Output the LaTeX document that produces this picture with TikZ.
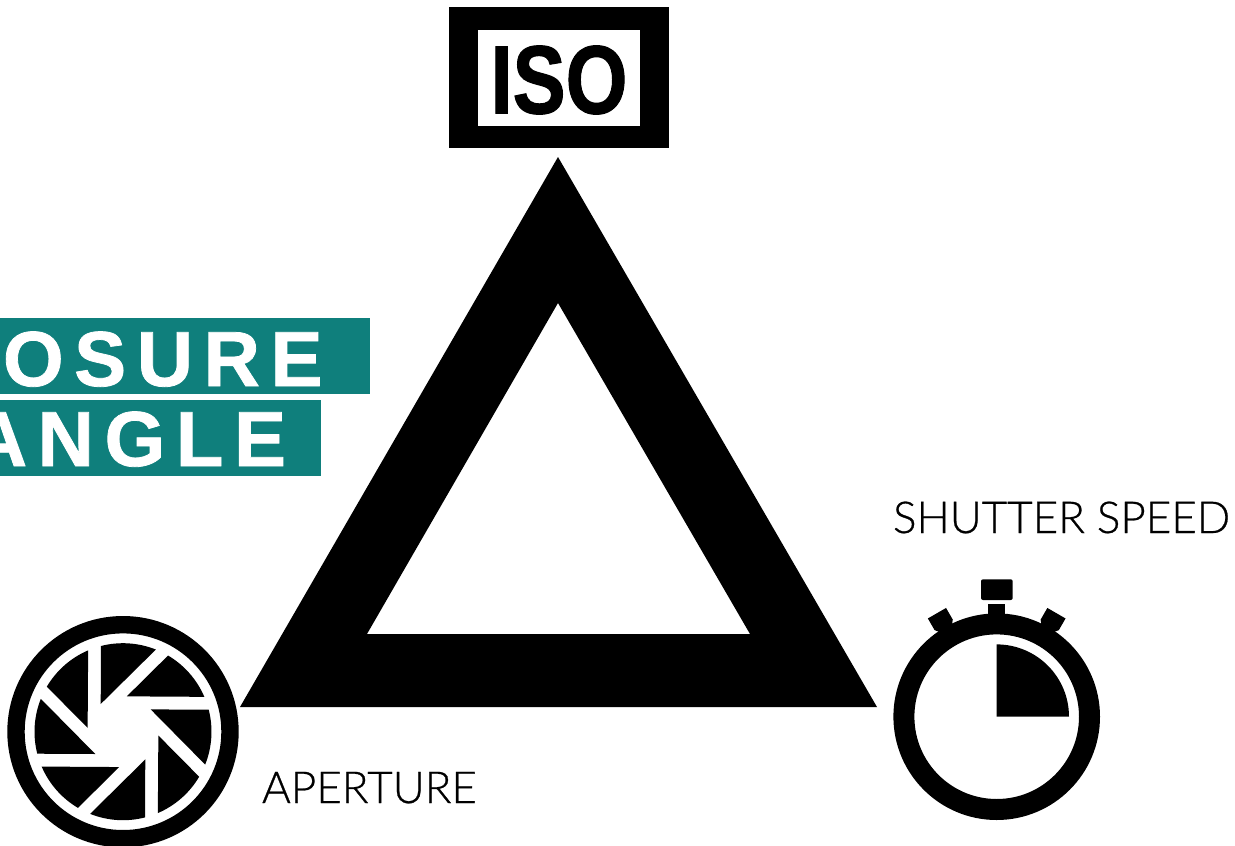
\documentclass[tikz,border=0pt]{standalone}
\usepackage{fontspec}
\setmainfont{Liberation Sans}
\newfontfamily\bannerfont[LetterSpace=13.5,FakeBold=1]{Liberation Sans Bold}
\newfontfamily\isofont[FakeBold=1.2]{Liberation Sans Bold}
\newfontfamily\thinfont[FakeBold=.6]{Lato Light}
\definecolor{cBan}{HTML}{0F7F7C}

\begin{document}
\begin{tikzpicture}[x=1pt, y=1pt,
    every node/.style={inner sep=0pt, outer sep=0pt},
    banner/.style ={fill=cBan, draw=none},
    bantxt/.style ={anchor=base east, text=white, font=\bannerfont\fontsize{78}{78}\selectfont},
    isotxt/.style ={anchor=center, xscale=.82, font=\isofont\fontsize{97}{97}\selectfont},
    lbl/.style    ={anchor=base west, font=\thinfont\fontsize{44}{44}\selectfont},
    ink/.style    ={fill=black, draw=none}]

\useasboundingbox (0,0) rectangle (1235,-846);
\clip (0,0) rectangle (1235,-846);

\def\AX{123}  \def\AY{-731.7}   % aperture centre
\def\SX{996.7} \def\SY{-716.7}  % stopwatch centre

% ── banner ──────────────────────────────────────────────────────────────
\fill[banner] (-1,-318) rectangle (370,-394);
\fill[banner] (-1,-400) rectangle (321,-476);
\node[bantxt] (expo) at (322.5,-386) {OSURE};
\node[bantxt] (tri)  at (286,-466) {ANGLE};

% ── triangle ────────────────────────────────────────────────────────────
\fill[ink, even odd rule] (558,-157) -- (877,-707) -- (240,-707) -- cycle
  (558,-303) -- (750,-634) -- (367,-634) -- cycle;

% ── iso ─────────────────────────────────────────────────────────────────
\fill[ink] (449,-7) rectangle (669,-148);
\fill[white] (478,-30) rectangle (640,-126);
\node[isotxt] (iso) at (559,-80) {ISO};

% ── aperture ────────────────────────────────────────────────────────────
\draw[line width=17.4pt] (\AX,\AY) circle[radius=107];
\foreach \ang in {0,45,...,315} {
  \begin{scope}[shift={(\AX,\AY)}, rotate=\ang]
    \fill[ink] (104.4:88.5) arc[start angle=104.4, end angle=68.2, radius=88.5]
      -- (-22.3,27.7) -- cycle;
  \end{scope}
}
\node[lbl] (apt) at (262,-803) {APERTURE};

% ── stopwatch ───────────────────────────────────────────────────────────
\draw[line width=21pt] (\SX,\SY) circle[radius=92.8];
\fill[ink] (\SX,\SY) -- ++(72.3,0) arc[start angle=0, end angle=90, radius=72.3] -- cycle;
\fill[ink, rounded corners=2pt] (981,-579.3) rectangle (1012.7,-600);
\fill[ink] (987.7,-604) rectangle (1005,-620);
\foreach \ang in {30,-30} {
  \begin{scope}[shift={(\SX,\SY)}, rotate=\ang]
    \fill[ink] (-10.5,119.5) -- (10.5,119.5) -- (10.5,106) -- (8,103) -- (8,98)
      -- (-8,98) -- (-8,103) -- (-10.5,106) -- cycle;
  \end{scope}
}
\node[lbl] (shut) at (893,-533) {SHUTTER SPEED};
\end{tikzpicture}
\end{document}
